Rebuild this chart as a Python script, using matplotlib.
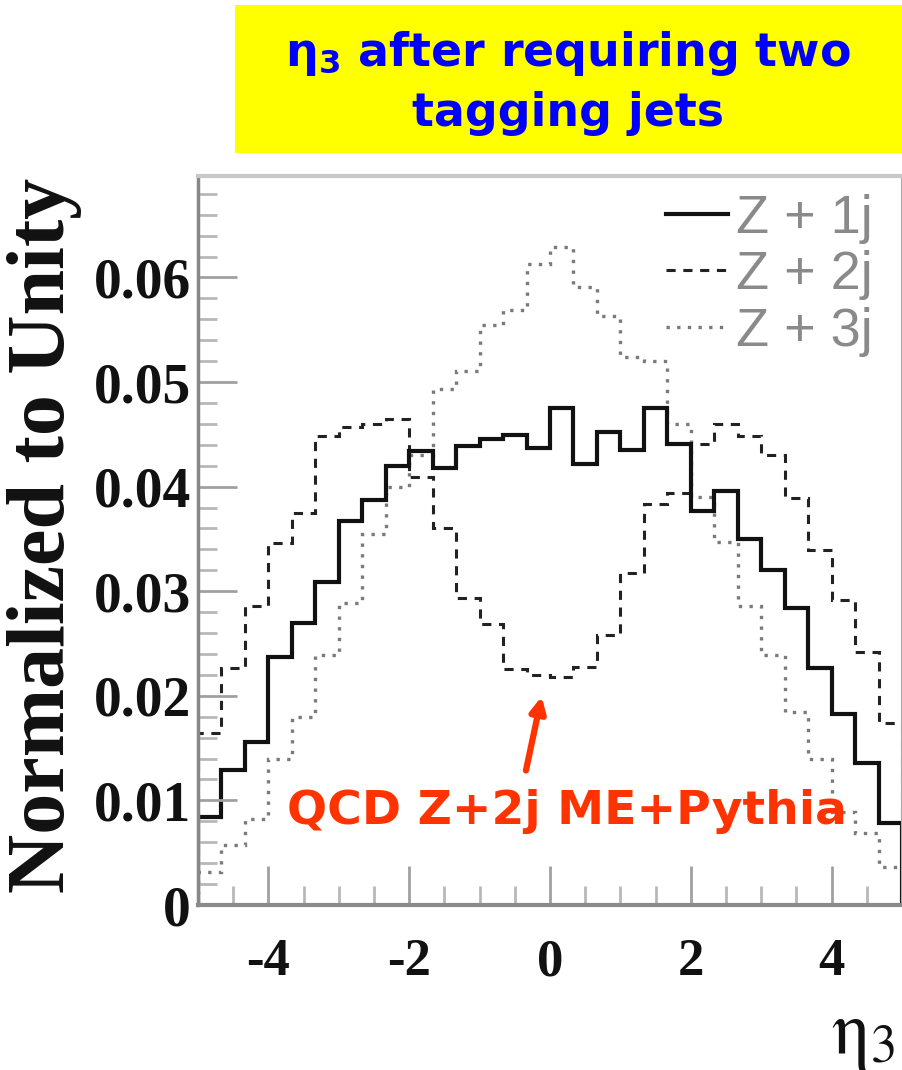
import numpy as np
import matplotlib
matplotlib.use("Agg")
import matplotlib.pyplot as plt
from matplotlib.lines import Line2D
from matplotlib.patches import Rectangle
from matplotlib.ticker import MultipleLocator, FuncFormatter

# eta_3 histograms, 30 bins from -5 to 5, normalized to unity
eta_edges = np.linspace(-5, 5, 31)

z1j = [0.0084, 0.0129, 0.0156, 0.0237, 0.0270, 0.0309, 0.0367, 0.0387, 0.0420, 0.0434,
       0.0418, 0.0439, 0.0446, 0.0449, 0.0437, 0.0475, 0.0422, 0.0452, 0.0435, 0.0475,
       0.0441, 0.0377, 0.0396, 0.0350, 0.0320, 0.0284, 0.0227, 0.0183, 0.0136, 0.0078]

z2j = [0.0164, 0.0227, 0.0286, 0.0346, 0.0375, 0.0448, 0.0457, 0.0460, 0.0465, 0.0409,
       0.0360, 0.0294, 0.0269, 0.0226, 0.0220, 0.0218, 0.0228, 0.0258, 0.0317, 0.0383,
       0.0394, 0.0441, 0.0460, 0.0448, 0.0430, 0.0389, 0.0339, 0.0292, 0.0242, 0.0174]

z3j = [0.0032, 0.0057, 0.0082, 0.0140, 0.0180, 0.0239, 0.0289, 0.0355, 0.0400, 0.0430,
       0.0493, 0.0511, 0.0555, 0.0569, 0.0613, 0.0629, 0.0591, 0.0563, 0.0524, 0.0520,
       0.0460, 0.0390, 0.0347, 0.0286, 0.0239, 0.0185, 0.0140, 0.0089, 0.0069, 0.0036]

labels = ["Z + 1j", "Z + 2j", "Z + 3j"]

W, H = 903, 1070
fig = plt.figure(figsize=(W / 100, H / 100), dpi=100)
ax = fig.add_axes([198 / W, 1 - 905 / H, (902 - 198) / W, (905 - 176) / H])

# histograms (dotted first, solid on top)
ax.stairs(z3j, eta_edges, baseline=0, color="#7a7a7a", lw=2.4, linestyle=(0, (1, 2.2)))
ax.stairs(z2j, eta_edges, baseline=0, color="#222222", lw=2.2, linestyle=(0, (3, 2.5)))
ax.stairs(z1j, eta_edges, baseline=0, color="#111111", lw=3.0)

ax.set_xlim(-5, 5)
ax.set_ylim(0, 0.0697)

ax.xaxis.set_major_locator(MultipleLocator(2))
ax.xaxis.set_minor_locator(MultipleLocator(0.5))
ax.yaxis.set_major_locator(MultipleLocator(0.01))
ax.yaxis.set_minor_locator(MultipleLocator(0.002))
ax.yaxis.set_major_formatter(FuncFormatter(lambda v, p: "0" if abs(v) < 1e-9 else f"{v:.2f}"))
ax.xaxis.set_major_formatter(FuncFormatter(lambda v, p: "0" if abs(v) < 1e-9 else f"{v:.0f}"))

ax.tick_params(which="major", direction="in", length=28, width=2, color="#a0a0a0")
ax.tick_params(which="minor", direction="in", length=14, width=2, color="#b8b8b8")
ax.tick_params(axis="y", pad=5)
ax.tick_params(axis="x", pad=24)
for lab in ax.get_yticklabels():
    lab.set_fontfamily("Liberation Serif")
    lab.set_fontweight("bold")
    lab.set_fontsize(40)
    lab.set_color("#111111")
for lab in ax.get_xticklabels():
    lab.set_fontfamily("Liberation Serif")
    lab.set_fontweight("bold")
    lab.set_fontsize(38)
    lab.set_color("#111111")

ax.spines["top"].set_color("#c8c8c8")
ax.spines["top"].set_linewidth(3)
ax.spines["left"].set_color("#888888")
ax.spines["left"].set_linewidth(2.5)
ax.spines["bottom"].set_color("#8a8a8a")
ax.spines["bottom"].set_linewidth(3)
ax.spines["right"].set_color("#aaaaaa")
ax.spines["right"].set_linewidth(1.5)

# legend
handles = [
    Line2D([], [], color="#111111", lw=3.0),
    Line2D([], [], color="#222222", lw=2.2, linestyle=(0, (3, 2.5))),
    Line2D([], [], color="#7a7a7a", lw=2.4, linestyle=(0, (1, 2.2))),
]
leg = ax.legend(handles, labels, loc="upper right", bbox_to_anchor=(1.005, 1.02),
                frameon=False, labelcolor="#8a8a8a",
                handlelength=1.15, handletextpad=0.15, labelspacing=0.12,
                borderaxespad=0.2, prop={"family": "Liberation Sans", "size": 39})

# annotation
ax.annotate("", xy=(-0.11, 0.0202), xytext=(-0.35, 0.0126),
            arrowprops=dict(arrowstyle="-|>,head_length=0.9,head_width=0.45",
                            color="#ff3300", lw=4.5))
ax.text(0.24, 0.0089, "QCD Z+2j ME+Pythia", color="#ff3300", fontsize=34,
        fontweight="bold", ha="center", va="center", family="DejaVu Sans")

# title box
fig.patches.append(Rectangle((235 / W, 1 - 153 / H), (903 - 235) / W, (153 - 5) / H,
                             transform=fig.transFigure, facecolor="#ffff00",
                             edgecolor="none", zorder=0))
fig.text(568 / W, 1 - 54 / H, r"$\mathbf{\eta_3}$ after requiring two", color="#0000ff",
         fontsize=33, fontweight="bold", ha="center", va="center", family="DejaVu Sans")
fig.text(568 / W, 1 - 114 / H, "tagging jets", color="#0000ff",
         fontsize=33, fontweight="bold", ha="center", va="center", family="DejaVu Sans")

# axis labels
fig.text(45 / W, 1 - 535 / H, "Normalized to Unity", rotation=90, fontsize=59,
         fontweight="bold", family="Liberation Serif", ha="center", va="center",
         color="#111111")
fig.text(895 / W, 1 - 1035 / H, r"$\mathrm{\eta}_3$", fontsize=54, ha="right", va="center",
         math_fontfamily="stix", color="#111111")

fig.savefig("out.png", dpi=100)
